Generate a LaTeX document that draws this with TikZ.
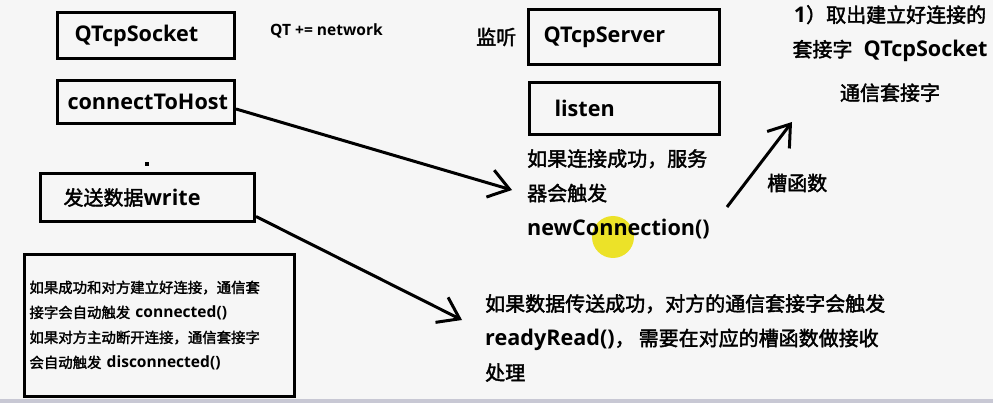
\documentclass[tikz,border=0pt]{standalone}
\usepackage{fontspec}
\setmainfont{Open Sans}[Scale=1.08]
\newfontfamily\cjk{Noto Sans CJK SC}[AutoFakeBold=2]
\usetikzlibrary{arrows.meta,calc}
\definecolor{PaperGray}{RGB}{246,246,246}
\definecolor{BarGray}{RGB}{200,200,212}
\definecolor{CursorYellow}{RGB}{236,226,40}
\newcommand{\zh}[1]{{\cjk #1}}
\newcommand{\bigtext}{\bfseries\fontsize{20}{34.5}\selectfont}
\newcommand{\smalltext}{\bfseries\fontsize{14.4}{25}\selectfont}

\begin{document}
\begin{tikzpicture}[x=1pt,y=-1pt,>={Straight Barb[length=20pt,width=28pt]}]
\tikzset{box/.style={draw,line width=3pt,anchor=north west,align=left,inner ysep=0pt,font=\bigtext},txt/.style={inner sep=0pt,align=left,font=\bigtext},arr/.style={->,line width=3pt}}
\fill[PaperGray] (0,0) rectangle (993,403);
\fill[BarGray] (0,399) rectangle (993,403);
\fill[CursorYellow] (613,237) circle (21pt);
\node[box,minimum height=46pt,text width=143pt,inner xsep=17pt] (sock) at (56,11) {QTcpSocket};
\node[box,minimum height=43pt,text width=157pt,inner xsep=10pt] (conn) at (56,79) {connectToHost};
\node[fill,minimum size=4pt,inner sep=0pt] (dot) at (147,164) {};
\node[box,minimum height=48pt,text width=168pt,inner xsep=23pt] (write) at (39,172) {\zh{发送数据}write};
\node[box,minimum height=142pt,text width=260pt,inner xsep=5pt,font=\smalltext] (info) at (23,253) {\zh{如果成功和对方建立好连接，通信套}\\\zh{接字会自动触发} connected()\\\zh{如果对方主动断开连接，通信套接字}\\\zh{会自动触发} disconnected()};
\node[txt,anchor=west,font=\bfseries\fontsize{14.4}{17}\selectfont] (net) at (270,31) {QT += network};
\node[txt,anchor=west] (listenlbl) at (476,37) {\zh{监听}};
\node[box,minimum height=55pt,text width=161pt,inner xsep=15pt] (server) at (527,8) {QTcpServer};
\node[box,minimum height=52pt,text width=140pt,inner xsep=25pt] (listen) at (528,81) {listen};
\node[txt,anchor=west] (newconn) at (527,194) {\zh{如果连接成功，服务}\\\zh{器会触发}\\newConnection()};
\node[txt,anchor=west] (slot) at (767,183) {\zh{槽函数}};
\node[txt,anchor=north,align=center] (take) at (890,5) {1\zh{）取出建立好连接的}\\\zh{套接字}\ \ QTcpSocket\\[9pt]\zh{通信套接字}};
\node[txt,anchor=west] (ready) at (485,338) {\zh{如果数据传送成功，对方的通信套接字会触发}\\readyRead()\zh{，}\hspace{4pt}\zh{需要在对应的槽函数做接收}\\\zh{处理}};
\coordinate (connin) at (512,190);
\coordinate (writein) at (462,320);
\coordinate (slotfrom) at (727,207);
\coordinate (slotto) at (792,122);
\draw[arr] ([yshift=-7pt]conn.east) -- (connin);
\draw[arr] ([yshift=-19pt]write.east) -- (writein);
\draw[arr] (slotfrom) -- (slotto);
\end{tikzpicture}
\end{document}
